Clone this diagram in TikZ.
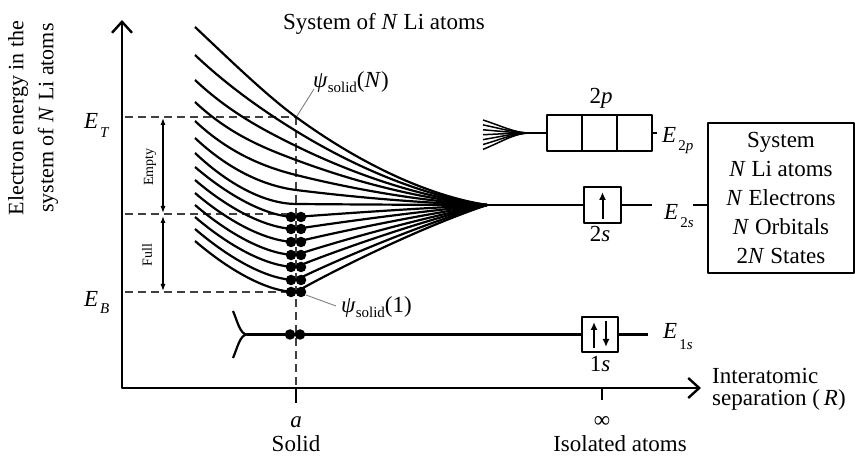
\documentclass[tikz,border=0pt]{standalone}
\usepackage{fontspec}
\setmainfont{Liberation Serif}
\usetikzlibrary{arrows.meta}
\newcommand{\Elab}[2][9pt]{\textit{E}\kern2pt\raisebox{-#1}{\fontsize{15}{15}\selectfont #2}}
\newcommand{\psilab}[1]{\textit{ψ}\raisebox{-5pt}{\fontsize{15}{15}\selectfont solid}(#1)}
\begin{document}
\begin{tikzpicture}[x=1pt,y=-1pt,line join=round,
  every node/.style={font=\fontsize{23}{28}\selectfont, inner sep=0pt},
  curve/.style={line width=2.2pt},
  lvl/.style={line width=2.2pt},
  axisline/.style={line width=2.6pt},
  dashline/.style={dash pattern=on 8pt off 5pt, line width=1.3pt, black!75},
  leader/.style={line width=0.9pt, black!50},
  orb/.style={draw, line width=2pt, inner sep=0pt},
  dotnode/.style={circle, fill, inner sep=0pt, minimum size=10.5pt},
  dbl/.style={line width=1.1pt, {Latex[length=7pt,width=5pt]}-{Latex[length=7pt,width=5pt]}},
  spin/.style={line width=2pt, -{Latex[length=8pt,width=7pt]}}]
\useasboundingbox (0,0) rectangle (855,457);

% axes
\coordinate (O) at (122,388);
\coordinate (ytop) at (122,20);
\coordinate (xend) at (701,388);
\draw[axisline, {Straight Barb[length=11pt,width=20pt,line width=2.4pt]}-{Straight Barb[length=11pt,width=20pt,line width=2.4pt]}] (ytop) -- (O) -- (xend);

% ticks and tick labels
\coordinate (ta) at (296,388);
\coordinate (tab) at (296,403);
\coordinate (ti) at (602,388);
\coordinate (tib) at (602,400);
\draw[line width=1.6pt] (ta) -- (tab);
\draw[line width=1.6pt] (ti) -- (tib);
\node[anchor=base] (la) at (296,427) {\textit{a}};
\node[anchor=base] (lsolid) at (296,451) {Solid};
\node[anchor=base] (linf) at (602,427) {∞};
\node[anchor=base] (liso) at (620,451) {Isolated atoms};
\node[anchor=base west] (lsep1) at (712,384) {Interatomic};
\node[anchor=base west] (lsep2) at (712,406) {separation (\,\textit{R})};

% y label and title
\node[rotate=90, align=center, font=\fontsize{22}{30}\selectfont] (ylab) at (33,118) {Electron energy in the\\system of \textit{N} Li atoms};
\node (title) at (384,24) {System of \textit{N} Li atoms};

% dashed guide lines
\coordinate (ETa) at (125,117);
\coordinate (ETb) at (296,117);
\coordinate (EFa) at (125,214);
\coordinate (EFb) at (288,214);
\coordinate (EBa) at (125,292);
\coordinate (EBb) at (288,292);
\draw[dashline] (ETa) -- (ETb);
\draw[dashline] (EFa) -- (EFb);
\draw[dashline] (EBa) -- (EBb);
\draw[dashline] (ETb) -- (ta);

\node[anchor=base west] (ET) at (84,129) {\Elab{\textit{T}}};
\node[anchor=base west] (EB) at (84,307) {\Elab[7pt]{\textit{B}}};

% Empty / Full arrows
\coordinate (emA) at (163,118);
\coordinate (emB) at (163,213);
\coordinate (fuA) at (163,216);
\coordinate (fuB) at (163,291);
\draw[dbl] (emA) -- (emB);
\draw[dbl] (fuA) -- (fuB);
\node[rotate=90, font=\fontsize{14}{14}\selectfont] (lempty) at (150,167) {Empty};
\node[rotate=90, font=\fontsize{14}{14}\selectfont] (lfull) at (147,255) {Full};

% band curves
\coordinate (conv) at (487,205);
\foreach \s/\m in {27/117,55/131,80/146,102/160,121/175,138/190,153/204}{
  \pgfmathsetmacro\D{205-\m}
  \pgfmathsetmacro\ca{\s+33}
  \pgfmathsetmacro\cb{\m-0.25*\D}
  \pgfmathsetmacro\cc{205-0.55*\D}
  \pgfmathsetmacro\cd{205-0.12*\D}
  \draw[curve] (195,\s) .. controls (230,\ca) and (266,\cb) .. (296,\m) .. controls (350,\cc) and (420,\cd) .. (conv);
}
\foreach \s/\m in {167/217,180/229,193/242,205/255,217/267,229/280,241/292}{
  \pgfmathsetmacro\D{\m-205}
  \pgfmathsetmacro\ca{\s+30}
  \pgfmathsetmacro\cc{205+0.85*\D}
  \pgfmathsetmacro\cd{205+0.3*\D}
  \draw[curve] (195,\s) .. controls (230,\ca) and (268,\m) .. (296,\m) .. controls (318,\cc) and (410,\cd) .. (conv);
}
% filled states
\foreach \m in {217,229,242,255,267,280,292}{
  \node[dotnode] (dl\m) at (291,\m) {};
  \node[dotnode] (dr\m) at (301,\m) {};
}

% psi labels
\coordinate (psNa) at (297,116);
\coordinate (psNb) at (314,89);
\draw[leader] (psNa) -- (psNb);
\node[anchor=base west] (psiN) at (313,88) {\psilab{\textit{N}}};
\coordinate (ps1a) at (306,295);
\coordinate (ps1b) at (336,306);
\draw[leader] (ps1a) -- (ps1b);
\node[anchor=base west] (psi1) at (341,313) {\psilab{1}};

% 2s level
\node[orb, minimum width=37pt, minimum height=36pt] (b2s) at (602.5,205) {};
\draw[lvl] (conv) -- (b2s.west);
\coordinate (e2sA) at (652,205);
\draw[lvl] (b2s.east) -- (e2sA);
\draw[spin] ([yshift=5pt]b2s.south) -- ([yshift=-6pt]b2s.north);
\node[anchor=base] (l2s) at (600,242) {2\textit{s}};
\node[anchor=base west] (E2s) at (664,220) {\Elab[8pt]{2\textit{s}}};
\coordinate (e2sB) at (693,205);

% system box
\node[draw, line width=1.6pt, minimum width=146pt, minimum height=150pt, align=center, font=\fontsize{23}{29}\selectfont] (sys) at (781,198)
  {System\\\textit{N} Li atoms\\\textit{N} Electrons\\\textit{N} Orbitals\\2\textit{N} States};
\draw[line width=1.6pt] (e2sB) -- (e2sB -| sys.west);

% 2p level
\node[orb, minimum width=35pt, minimum height=36pt] (p1) at (564.5,133) {};
\node[orb, minimum width=35pt, minimum height=36pt] (p2) at (599.5,133) {};
\node[orb, minimum width=35pt, minimum height=36pt] (p3) at (634.5,133) {};
\node[anchor=base] (l2p) at (601,104) {2\textit{p}};
\coordinate (fan) at (530,133);
\foreach \i in {0,...,6}{
  \pgfmathsetmacro\yy{120+\i*4.9}
  \pgfmathsetmacro\ym{0.5*\yy+66.5}
  \draw[line width=1.5pt] (483,\yy) .. controls (503,\ym) and (515,133) .. (fan);
}
\draw[lvl] (fan) -- (p1.west);
\coordinate (e2pA) at (657,133);
\draw[lvl] (p3.east) -- (e2pA);
\node[anchor=base west] (E2p) at (662,143) {\Elab[8pt]{2\textit{p}}};

% 1s level
\coordinate (fk) at (247,334.5);
\draw[lvl] (233,311) .. controls (237,320) and (240,334.5) .. (fk) .. controls (240,334.5) and (237,349) .. (233,358);
\node[orb, minimum width=36pt, minimum height=35pt] (b1s) at (600,334.5) {};
\draw[lvl] (fk) -- (b1s.west);
\coordinate (e1sA) at (648,334.5);
\draw[lvl] (b1s.east) -- (e1sA);
\node[dotnode] (c1) at (290,334.5) {};
\node[dotnode] (c2) at (300,334.5) {};
\draw[spin] ([xshift=-6pt,yshift=5pt]b1s.south) -- ([xshift=-6pt,yshift=-6pt]b1s.north);
\draw[spin] ([xshift=6pt,yshift=-5pt]b1s.north) -- ([xshift=6pt,yshift=6pt]b1s.south);
\node[anchor=base] (l1s) at (600,371) {1\textit{s}};
\node[anchor=base west] (E1s) at (663,338) {\Elab[11pt]{1\textit{s}}};
\end{tikzpicture}
\end{document}
